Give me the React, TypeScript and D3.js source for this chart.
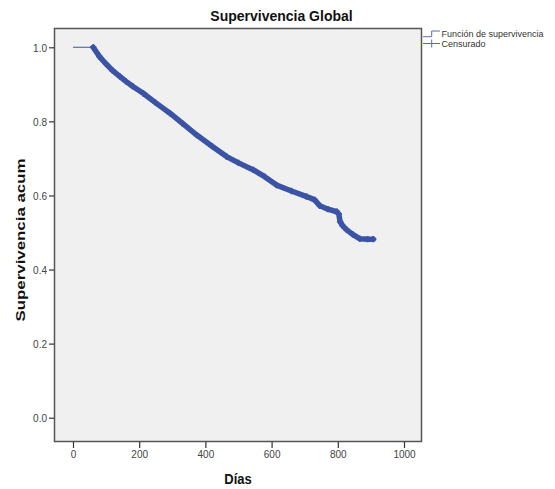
import * as d3 from "d3";
import React, { useEffect, useRef } from "react";

// Kaplan-Meier curve (días, supervivencia acumulada)
const tiempos = [0, 61, 80, 100, 120, 142, 160, 180, 212, 250, 293, 330, 374, 420, 464, 500, 545, 580, 615, 660, 706, 730, 746, 770, 797, 803, 807, 815, 827, 845, 867, 890, 907];
const supervivencia = [1.0, 1.0, 0.975, 0.955, 0.937, 0.921, 0.908, 0.895, 0.876, 0.85, 0.822, 0.795, 0.763, 0.733, 0.705, 0.688, 0.669, 0.65, 0.628, 0.612, 0.597, 0.588, 0.572, 0.563, 0.556, 0.55, 0.529, 0.518, 0.507, 0.495, 0.483, 0.482, 0.482];
const xTicks = [0, 200, 400, 600, 800, 1000];
const yTicks = [0, 0.2, 0.4, 0.6, 0.8, 1.0];
const legendLabels = ["Función de supervivencia", "Censurado"];

const BLUE = "#3b53a5";
const LIGHT_BLUE = "#5a6db2";
const FONT = "Liberation Sans, Arial, sans-serif";

export default function App() {
  const ref = useRef<SVGSVGElement>(null);

  useEffect(() => {
    const width = 555;
    const height = 489;
    const frame = { left: 54.5, right: 421.5, top: 28.5, bottom: 441.5 };

    const svg = d3.select(ref.current);
    svg.selectAll("*").remove();
    svg.attr("width", width).attr("height", height);

    const x = d3.scaleLinear().domain([0, 1000]).range([73, 404]);
    const y = d3.scaleLinear().domain([0, 1]).range([417.7, 47.3]);

    svg.append("rect").attr("width", width).attr("height", height).attr("fill", "#fff");

    // plot area
    svg
      .append("rect")
      .attr("x", frame.left)
      .attr("y", frame.top)
      .attr("width", frame.right - frame.left)
      .attr("height", frame.bottom - frame.top)
      .attr("fill", "#f0f0f0")
      .attr("stroke", "#555")
      .attr("stroke-width", 1.5);

    // axes
    const yAxis = svg
      .append("g")
      .attr("transform", `translate(${frame.left - 0.5},0)`)
      .call(d3.axisLeft(y).tickValues(yTicks).tickFormat(d3.format(".1f")).tickSize(5).tickPadding(2));
    const xAxis = svg
      .append("g")
      .attr("transform", `translate(0,${frame.bottom + 0.5})`)
      .call(d3.axisBottom(x).tickValues(xTicks).tickFormat(d3.format("d")).tickSize(6).tickPadding(3));
    [yAxis, xAxis].forEach((g) => {
      g.select(".domain").remove();
      g.selectAll("line").attr("stroke", "#333").attr("stroke-width", 1.2);
      g.selectAll("text")
        .attr("fill", "#444")
        .attr("font-family", FONT)
        .attr("font-size", 10);
    });
    yAxis.selectAll("text").attr("dy", "0.4em");

    const data = tiempos.map((t, i) => ({ t, s: supervivencia[i] }));

    // thin survival line (flat start)
    const step = d3
      .line<{ t: number; s: number }>()
      .x((d) => x(d.t))
      .y((d) => y(d.s))
      .curve(d3.curveStepAfter);
    svg
      .append("path")
      .attr("d", step(data.slice(0, 2)))
      .attr("fill", "none")
      .attr("stroke", LIGHT_BLUE)
      .attr("stroke-width", 1.2);

    // many tiny steps and dense censored marks read as one thick band
    const band = d3
      .line<{ t: number; s: number }>()
      .x((d) => x(d.t))
      .y((d) => y(d.s));
    svg
      .append("path")
      .attr("d", band(data.slice(1)))
      .attr("fill", "none")
      .attr("stroke", BLUE)
      .attr("stroke-width", 5.5)
      .attr("stroke-linejoin", "round")
      .attr("stroke-linecap", "round");

    const cross = d3.symbol(d3.symbolCross, 22);
    svg
      .append("g")
      .selectAll("path")
      .data(data.slice(1))
      .join("path")
      .attr("d", cross)
      .attr("transform", (d) => `translate(${x(d.t)},${y(d.s)})`)
      .attr("fill", BLUE);

    // title
    svg
      .append("text")
      .attr("x", 281.5)
      .attr("y", 21)
      .attr("text-anchor", "middle")
      .attr("font-family", FONT)
      .attr("font-weight", "bold")
      .attr("font-size", 14)
      .attr("fill", "#111")
      .text("Supervivencia Global");

    // axis titles
    svg
      .append("text")
      .attr("transform", "translate(238,484) scale(1,1.15)")
      .attr("text-anchor", "middle")
      .attr("font-family", FONT)
      .attr("font-weight", "bold")
      .attr("font-size", 13)
      .attr("fill", "#111")
      .text("Días");
    svg
      .append("text")
      .attr("transform", "translate(25,240) rotate(-90)")
      .attr("text-anchor", "middle")
      .attr("font-family", FONT)
      .attr("font-weight", "bold")
      .attr("font-size", 13)
      .attr("fill", "#111")
      .attr("textLength", 163)
      .attr("lengthAdjust", "spacingAndGlyphs")
      .text("Supervivencia acum");

    // legend
    const lg = svg.append("g");
    lg.append("path")
      .attr("d", "M423,36.7H431.7V31H440")
      .attr("fill", "none")
      .attr("stroke", LIGHT_BLUE)
      .attr("stroke-width", 1);
    lg.append("path")
      .attr("d", "M423,43.5H440M431.7,39.5V47.5")
      .attr("fill", "none")
      .attr("stroke", LIGHT_BLUE)
      .attr("stroke-width", 1);
    lg.selectAll("text")
      .data(legendLabels)
      .join("text")
      .attr("x", 441.5)
      .attr("y", (_, i) => 37.3 + i * 9.6)
      .attr("font-family", FONT)
      .attr("font-size", 9)
      .attr("fill", "#333")
      .text((d) => d);
  }, []);

  return <svg ref={ref} style={{ position: "absolute", left: 0, top: 0 }} />;
}
